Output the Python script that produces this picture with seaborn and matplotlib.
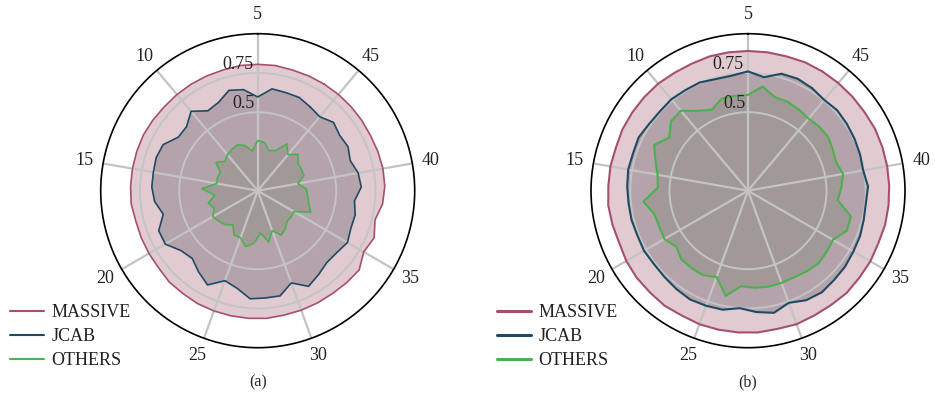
import numpy as np
import matplotlib
matplotlib.use("Agg")
import matplotlib.pyplot as plt
import seaborn as sns

sns.set_theme(style="white")
plt.rcParams["font.family"] = ["Liberation Serif", "DejaVu Serif"]

# step index of every sample around the circle
steps = np.arange(1, 46)
tick_values = [5, 10, 15, 20, 25, 30, 35, 40, 45]
radial_ticks = [0.5, 0.75]
series_names = ["MASSIVE", "JCAB", "OTHERS"]

# panel (a)
massive_a = [0.80, 0.80, 0.80, 0.805, 0.805, 0.805, 0.80, 0.80, 0.80, 0.80,
             0.80, 0.805, 0.81, 0.81, 0.81, 0.81, 0.81, 0.80, 0.80, 0.80,
             0.80, 0.81, 0.81, 0.815, 0.815, 0.815, 0.815, 0.815, 0.81, 0.81,
             0.81, 0.81, 0.815, 0.82, 0.78, 0.80, 0.77, 0.80, 0.81, 0.81,
             0.805, 0.80, 0.80, 0.80, 0.80]
jcab_a = [0.63, 0.65, 0.65, 0.655, 0.597, 0.65, 0.665, 0.615, 0.60, 0.66,
          0.61, 0.61, 0.67, 0.68, 0.675, 0.675, 0.66, 0.62, 0.68, 0.68,
          0.62, 0.60, 0.64, 0.68, 0.61, 0.635, 0.69, 0.685, 0.685, 0.625,
          0.69, 0.66, 0.635, 0.64, 0.66, 0.64, 0.64, 0.62, 0.66, 0.65,
          0.62, 0.64, 0.63, 0.65, 0.615]
others_a = [0.35, 0.28, 0.265, 0.31, 0.32, 0.255, 0.30, 0.32, 0.31, 0.30,
            0.28, 0.32, 0.265, 0.27, 0.265, 0.355, 0.275, 0.325, 0.30, 0.33,
            0.315, 0.30, 0.27, 0.32, 0.32, 0.365, 0.335, 0.27, 0.335, 0.27,
            0.32, 0.30, 0.27, 0.27, 0.265, 0.365, 0.335, 0.32, 0.31, 0.26,
            0.31, 0.31, 0.31, 0.345, 0.30]

# panel (b)
massive_b = [0.895, 0.895, 0.89, 0.89, 0.89, 0.89, 0.89, 0.885, 0.885, 0.89,
             0.89, 0.89, 0.89, 0.885, 0.89, 0.89, 0.895, 0.89, 0.885, 0.895,
             0.90, 0.90, 0.905, 0.90, 0.905, 0.905, 0.905, 0.905, 0.90, 0.905,
             0.90, 0.90, 0.905, 0.90, 0.90, 0.895, 0.90, 0.90, 0.90, 0.90,
             0.90, 0.90, 0.895, 0.895, 0.895]
jcab_b = [0.77, 0.78, 0.775, 0.73, 0.76, 0.74, 0.74, 0.755, 0.755, 0.76,
          0.755, 0.76, 0.775, 0.77, 0.775, 0.77, 0.765, 0.765, 0.76, 0.765,
          0.76, 0.765, 0.775, 0.785, 0.78, 0.775, 0.75, 0.775, 0.795, 0.76,
          0.79, 0.80, 0.79, 0.785, 0.775, 0.77, 0.76, 0.755, 0.765, 0.745,
          0.75, 0.755, 0.76, 0.765, 0.755]
others_b = [0.61, 0.62, 0.62, 0.67, 0.61, 0.61, 0.61, 0.565, 0.60, 0.665,
            0.66, 0.605, 0.665, 0.62, 0.585, 0.575, 0.67, 0.615, 0.61, 0.615,
            0.58, 0.61, 0.61, 0.61, 0.585, 0.685, 0.61, 0.62, 0.625, 0.625,
            0.625, 0.635, 0.645, 0.635, 0.625, 0.68, 0.675, 0.575, 0.595, 0.615,
            0.59, 0.60, 0.615, 0.61, 0.60]

line_colors = {"MASSIVE": "#a5506f", "JCAB": "#1f4a63", "OTHERS": "#4db04f"}
fill_colors = {"MASSIVE": "#e1cbd0", "JCAB": "#b5a3ab", "OTHERS": "#a19997"}
grid_color = "#c4c4c4"
text_color = "#222222"


def step_angle(s):
    return np.deg2rad((np.asarray(s, dtype=float) - 5) * 8.0)


def radar(rect, data, lw, legend_xy, legend_lw, caption):
    ax = fig.add_axes(rect, projection="polar")
    ax.set_theta_offset(np.pi / 2)
    ax.set_theta_direction(1)
    closed_steps = np.append(steps, steps[0] + len(steps))
    theta = step_angle(closed_steps)
    for name in series_names:
        vals = np.asarray(data[name])
        r = np.append(vals, vals[0])
        ax.fill(theta, r, color=fill_colors[name], lw=0, zorder=1)
        sns.lineplot(x=theta, y=r, ax=ax, sort=False, estimator=None,
                     color=line_colors[name], lw=lw, label=name, zorder=2)
    ax.set_ylim(0, 1.0)
    ax.set_yticks(radial_ticks)
    ax.set_yticklabels([])
    ax.set_xticks(step_angle(tick_values))
    ax.set_xticklabels([str(v) for v in tick_values])
    ax.tick_params(axis="x", pad=0.5, labelsize=13, colors=text_color)
    ax.set_axisbelow("line")
    ax.xaxis.grid(True, color=grid_color, lw=1.6)
    ax.yaxis.grid(True, color=grid_color, lw=1.4)
    ax.spines["polar"].set_color("black")
    ax.spines["polar"].set_linewidth(1.2)
    ax.set_xlabel("")
    ax.set_ylabel("")
    for t in radial_ticks:
        ax.text(np.deg2rad(2.0), t, f"{t:g}", ha="right", va="bottom",
                fontsize=13, color=text_color, zorder=3)
    handles, labels = ax.get_legend_handles_labels()
    if ax.get_legend() is not None:
        ax.get_legend().remove()
    leg = fig.legend(handles, labels, loc="upper left", bbox_to_anchor=legend_xy,
                     bbox_transform=fig.transFigure, frameon=False, fontsize=13,
                     borderpad=0, borderaxespad=0, handlelength=1.9,
                     handletextpad=0.4, labelspacing=0.39)
    for h in leg.legend_handles:
        h.set_linewidth(legend_lw)
    for txt in leg.get_texts():
        txt.set_color(text_color)
    cx = rect[0] + rect[2] / 2
    fig.text(cx, 0.052, caption, ha="center", va="center", fontsize=11.5,
             color=text_color)
    return ax


fig = plt.figure(figsize=(9.35, 4.03), dpi=100)
W, H = 935, 403
R = 157
radar([(257.7 - R) / W, (403 - 190.7 - R) / H, 2 * R / W, 2 * R / H],
      {"MASSIVE": massive_a, "JCAB": jcab_a, "OTHERS": others_a},
      1.2, (10 / W, (403 - 304) / H), 1.5, "(a)")
radar([(748 - R) / W, (403 - 190.7 - R) / H, 2 * R / W, 2 * R / H],
      {"MASSIVE": massive_b, "JCAB": jcab_b, "OTHERS": others_b},
      1.5, (497 / W, (403 - 304) / H), 2.2, "(b)")

fig.savefig("out.png", dpi=100)
